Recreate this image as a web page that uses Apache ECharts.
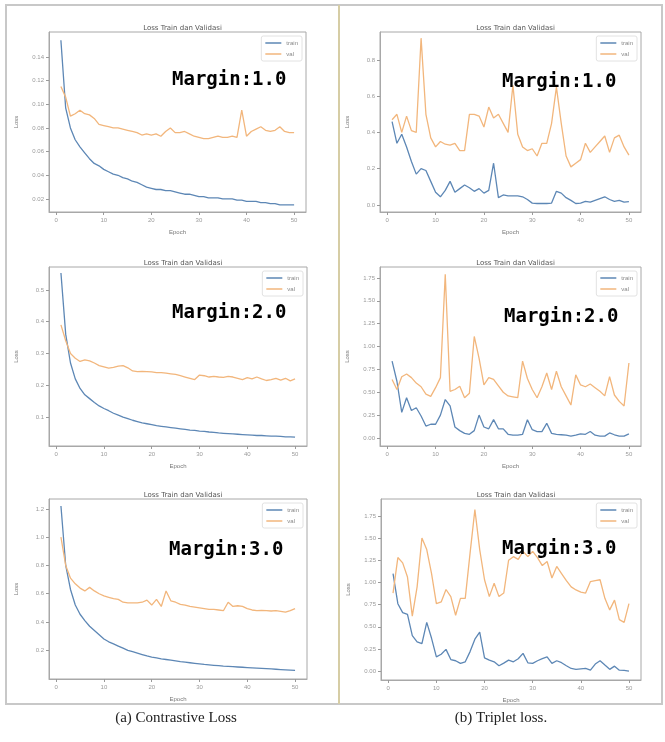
<!DOCTYPE html>
<html>
<head>
<meta charset="utf-8">
<script src="https://cdn.jsdelivr.net/npm/echarts@6/dist/echarts.min.js"></script>
<style>
html, body { margin: 0; padding: 0; background: #fff; }
#main { width: 665px; height: 742px; }
</style>
</head>
<body>
<div id="main"></div>
<script>
// epochs on the x axis
var epochs = [1,2,3,4,5,6,7,8,9,10,11,12,13,14,15,16,17,18,19,20,21,22,23,24,25,
              26,27,28,29,30,31,32,33,34,35,36,37,38,39,40,41,42,43,44,45,46,47,48,49,50];
var xTicks = [0, 10, 20, 30, 40, 50];

// (a) contrastive loss, margin 1.0
var p1Train = [0.154,0.097,0.080,0.070,0.064,0.059,0.054,0.050,0.048,0.045,0.043,0.041,0.040,0.038,0.037,0.035,0.034,0.032,0.030,0.029,
               0.028,0.028,0.027,0.027,0.026,0.025,0.024,0.024,0.023,0.022,0.022,0.021,0.021,0.021,0.020,0.020,0.020,0.019,0.019,0.018,
               0.018,0.018,0.017,0.017,0.016,0.016,0.015,0.015,0.015,0.015];
var p1Val = [0.115,0.106,0.090,0.092,0.095,0.092,0.091,0.088,0.083,0.082,0.081,0.080,0.080,0.079,0.078,0.077,0.076,0.074,0.075,0.074,
             0.075,0.073,0.077,0.080,0.076,0.076,0.077,0.075,0.073,0.072,0.071,0.071,0.072,0.073,0.072,0.072,0.073,0.072,0.095,0.073,
             0.077,0.079,0.081,0.078,0.077,0.078,0.081,0.077,0.076,0.076];
var p1Ticks = [0.02, 0.04, 0.06, 0.08, 0.10, 0.12, 0.14];

// (b) triplet loss, margin 1.0
var p2Train = [0.46,0.34,0.39,0.32,0.24,0.17,0.20,0.19,0.13,0.07,0.045,0.08,0.13,0.07,0.09,0.11,0.095,0.075,0.09,0.065,
               0.08,0.23,0.04,0.055,0.05,0.05,0.05,0.045,0.03,0.01,0.008,0.008,0.008,0.01,0.075,0.065,0.04,0.025,0.008,0.01,
               0.02,0.015,0.025,0.035,0.045,0.03,0.02,0.025,0.015,0.018];
var p2Val = [0.47,0.50,0.40,0.49,0.41,0.40,0.92,0.50,0.37,0.32,0.35,0.335,0.33,0.34,0.30,0.30,0.50,0.50,0.49,0.43,
             0.54,0.48,0.50,0.45,0.40,0.66,0.39,0.32,0.30,0.31,0.27,0.34,0.34,0.45,0.65,0.45,0.27,0.21,0.23,0.25,
             0.34,0.29,0.32,0.35,0.38,0.29,0.37,0.385,0.32,0.275];
var p2Ticks = [0.0, 0.2, 0.4, 0.6, 0.8];

// (a) contrastive loss, margin 2.0
var p3Train = [0.553,0.36,0.27,0.22,0.19,0.17,0.158,0.146,0.135,0.127,0.12,0.112,0.106,0.100,0.095,0.090,0.086,0.082,0.079,0.076,
               0.073,0.071,0.069,0.067,0.065,0.063,0.061,0.059,0.058,0.056,0.055,0.053,0.052,0.050,0.049,0.048,0.047,0.046,0.045,0.044,
               0.043,0.042,0.042,0.041,0.040,0.040,0.039,0.038,0.038,0.037];
var p3Val = [0.39,0.34,0.30,0.285,0.275,0.28,0.277,0.27,0.262,0.258,0.254,0.256,0.26,0.262,0.255,0.245,0.243,0.244,0.243,0.242,
             0.24,0.24,0.238,0.236,0.234,0.23,0.226,0.222,0.218,0.232,0.23,0.226,0.228,0.226,0.225,0.228,0.226,0.222,0.218,0.224,
             0.22,0.226,0.22,0.215,0.218,0.222,0.216,0.222,0.214,0.22];
var p3Ticks = [0.1, 0.2, 0.3, 0.4, 0.5];

// (b) triplet loss, margin 2.0
var p4Train = [0.84,0.62,0.28,0.44,0.30,0.33,0.24,0.13,0.15,0.15,0.25,0.42,0.35,0.12,0.08,0.05,0.04,0.08,0.25,0.12,
               0.10,0.20,0.10,0.10,0.04,0.03,0.03,0.04,0.20,0.09,0.07,0.07,0.16,0.05,0.04,0.035,0.03,0.02,0.03,0.045,
               0.04,0.07,0.03,0.02,0.02,0.055,0.035,0.02,0.02,0.045];
var p4Val = [0.64,0.53,0.67,0.70,0.66,0.60,0.56,0.48,0.455,0.55,0.66,1.79,0.51,0.53,0.565,0.44,0.49,1.11,0.87,0.58,
             0.66,0.64,0.57,0.50,0.46,0.45,0.44,0.84,0.65,0.53,0.44,0.56,0.71,0.53,0.73,0.56,0.46,0.36,0.69,0.58,
             0.56,0.59,0.55,0.51,0.46,0.67,0.47,0.40,0.35,0.82];
var p4Ticks = [0.00, 0.25, 0.50, 0.75, 1.00, 1.25, 1.50, 1.75];

// (a) contrastive loss, margin 3.0
var p5Train = [1.22,0.80,0.63,0.52,0.455,0.41,0.37,0.34,0.31,0.28,0.26,0.245,0.23,0.215,0.20,0.19,0.18,0.17,0.16,0.152,
               0.146,0.14,0.135,0.13,0.125,0.12,0.116,0.112,0.108,0.104,0.10,0.097,0.094,0.091,0.088,0.086,0.084,0.082,0.080,0.078,
               0.076,0.074,0.072,0.070,0.068,0.066,0.064,0.062,0.060,0.058];
var p5Val = [1.00,0.80,0.71,0.67,0.64,0.62,0.645,0.62,0.60,0.585,0.575,0.565,0.56,0.54,0.535,0.535,0.535,0.54,0.555,0.52,
             0.56,0.51,0.62,0.55,0.54,0.525,0.52,0.51,0.505,0.50,0.495,0.49,0.49,0.485,0.48,0.54,0.51,0.515,0.51,0.495,
             0.485,0.48,0.482,0.48,0.478,0.48,0.475,0.47,0.48,0.495];
var p5Ticks = [0.2, 0.4, 0.6, 0.8, 1.0, 1.2];

// (b) triplet loss, margin 3.0
var p6Train = [1.10,0.76,0.66,0.64,0.40,0.33,0.31,0.55,0.37,0.16,0.19,0.245,0.13,0.117,0.087,0.105,0.22,0.36,0.44,0.15,
               0.124,0.105,0.06,0.09,0.124,0.105,0.14,0.20,0.094,0.087,0.117,0.14,0.16,0.087,0.117,0.095,0.06,0.03,0.02,0.025,
               0.03,0.011,0.08,0.117,0.068,0.02,0.056,0.011,0.008,0.0];
var p6Val = [0.88,1.28,1.22,1.06,0.62,0.95,1.50,1.37,1.10,0.76,0.78,0.92,0.84,0.63,0.82,0.82,1.33,1.82,1.37,1.03,
             0.84,0.99,0.84,0.88,1.25,1.29,1.26,1.35,1.29,1.35,1.28,1.19,1.235,1.05,1.18,1.10,1.02,0.95,0.915,0.89,
             0.88,1.01,1.02,1.03,0.82,0.69,0.80,0.58,0.55,0.76];
var p6Ticks = [0.00, 0.25, 0.50, 0.75, 1.00, 1.25, 1.50, 1.75];

var marginLabels = ['Margin:1.0', 'Margin:1.0', 'Margin:2.0', 'Margin:2.0', 'Margin:3.0', 'Margin:3.0'];

// layout of each subplot: frame box [left, top, width, height], y range, label decimals, margin text pos
var panels = [
  { train: p1Train, val: p1Val, ticks: p1Ticks, dec: 2, ymin: 0.009, ymax: 0.161, box: [49, 32, 257, 180], mx: 172, my: 80 },
  { train: p2Train, val: p2Val, ticks: p2Ticks, dec: 1, ymin: -0.039, ymax: 0.954, box: [380, 32, 261, 180], mx: 502, my: 82 },
  { train: p3Train, val: p3Val, ticks: p3Ticks, dec: 1, ymin: 0.009, ymax: 0.572, box: [49, 267, 258, 179], mx: 172, my: 313 },
  { train: p4Train, val: p4Val, ticks: p4Ticks, dec: 2, ymin: -0.088, ymax: 1.87, box: [380, 267, 261, 179], mx: 504, my: 317 },
  { train: p5Train, val: p5Val, ticks: p5Ticks, dec: 1, ymin: -0.003, ymax: 1.27, box: [49, 499, 258, 180], mx: 169, my: 550 },
  { train: p6Train, val: p6Val, ticks: p6Ticks, dec: 2, ymin: -0.10, ymax: 1.94, box: [381, 499, 260, 181], mx: 502, my: 549 }
];

var W = 665;
var tickColor = '#9a9a9a';
var trainColor = '#5d87b5';
var valColor = '#f2b67c';
var grids = [], xAxes = [], yAxes = [], series = [], titles = [], legends = [];
var graphics = [
  { type: 'rect', shape: { x: 6, y: 5, width: 656, height: 699 }, style: { fill: 'none', stroke: '#c8c8c8', lineWidth: 2 }, z: 50 },
  { type: 'line', shape: { x1: 339, y1: 5, x2: 339, y2: 704 }, style: { stroke: '#d6cda5', lineWidth: 2 }, z: 50 },
  { type: 'text', style: { text: '(a) Contrastive Loss', x: 176, y: 718, align: 'center', verticalAlign: 'middle',
      font: '15px "Liberation Serif", "Times New Roman", serif', fill: '#222' } },
  { type: 'text', style: { text: '(b) Triplet loss.', x: 501, y: 718, align: 'center', verticalAlign: 'middle',
      font: '15px "Liberation Serif", "Times New Roman", serif', fill: '#222' } }
];

panels.forEach(function (p, i) {
  var b = p.box;
  grids.push({ left: b[0], top: b[1], width: b[2], height: b[3], show: true,
    borderColor: '#a8a8a8', borderWidth: 1, backgroundColor: 'transparent', containLabel: false });
  xAxes.push({
    type: 'value', gridIndex: i, min: -1.5, max: 52.5,
    name: 'Epoch', nameLocation: 'middle', nameGap: 17,
    nameTextStyle: { fontSize: 6, color: '#777' },
    axisLine: { show: true, onZero: false, lineStyle: { color: '#a8a8a8' } },
    axisTick: { show: true, length: 3, lineStyle: { color: tickColor }, customValues: xTicks },
    axisLabel: { fontSize: 6, color: tickColor, margin: 5, customValues: xTicks },
    splitLine: { show: false }
  });
  yAxes.push({
    type: 'value', gridIndex: i, min: p.ymin, max: p.ymax,
    name: 'Loss', nameLocation: 'middle', nameGap: 30, nameRotate: 90,
    nameTextStyle: { fontSize: 6, color: '#777' },
    axisLine: { show: true, onZero: false, lineStyle: { color: '#a8a8a8' } },
    axisTick: { show: true, length: 3, lineStyle: { color: tickColor }, customValues: p.ticks },
    axisLabel: { fontSize: 6, color: tickColor, margin: 5, customValues: p.ticks,
      formatter: (function (d) { return function (v) { return v.toFixed(d); }; })(p.dec) },
    splitLine: { show: false }
  });
  series.push({
    name: 'train', type: 'line', xAxisIndex: i, yAxisIndex: i, symbol: 'none', showSymbol: false,
    data: epochs.map(function (e, k) { return [e, p.train[k]]; }),
    lineStyle: { color: trainColor, width: 1.3 }, itemStyle: { color: trainColor }
  });
  series.push({
    name: 'val', type: 'line', xAxisIndex: i, yAxisIndex: i, symbol: 'none', showSymbol: false,
    data: epochs.map(function (e, k) { return [e, p.val[k]]; }),
    lineStyle: { color: valColor, width: 1.3 }, itemStyle: { color: valColor }
  });
  titles.push({
    text: 'Loss Train dan Validasi', left: b[0] + b[2] / 2, top: b[1] - 12, textAlign: 'center',
    textStyle: { fontSize: 7, fontWeight: 'normal', color: '#555', fontFamily: 'DejaVu Sans' }
  });
  legends.push({
    data: ['train', 'val'], orient: 'vertical', right: W - (b[0] + b[2]) + 4, top: b[1] + 4,
    icon: 'rect', itemWidth: 16, itemHeight: 1.5, itemGap: 5, padding: [4, 4],
    borderColor: '#e2e2e2', borderWidth: 1, borderRadius: 2,
    textStyle: { fontSize: 6, color: '#888' }
  });
  graphics.push({
    type: 'text', z: 100,
    style: { text: marginLabels[i], x: p.mx, y: p.my, verticalAlign: 'middle',
      font: 'bold 19px "DejaVu Sans Mono", monospace', fill: '#000' }
  });
});

var myChart = echarts.init(document.getElementById('main'), null, { renderer: 'canvas' });
var option = {
  animation: false,
  backgroundColor: '#fff',
  title: titles,
  legend: legends,
  grid: grids,
  xAxis: xAxes,
  yAxis: yAxes,
  series: series,
  graphic: { elements: graphics }
};
myChart.setOption(option);
</script>
</body>
</html>
